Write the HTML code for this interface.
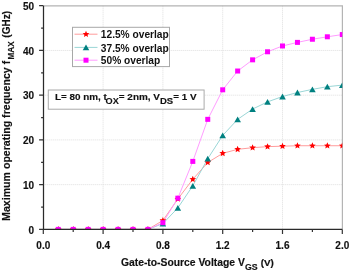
<!DOCTYPE html>
<html><head><meta charset="utf-8"><style>
html,body{margin:0;padding:0;background:#fff;}
body{width:350px;height:271px;overflow:hidden;position:relative;}
svg{position:absolute;left:0;top:0;will-change:transform;}
text{font-family:"Liberation Sans",sans-serif;font-weight:bold;fill:#111;stroke:#111;stroke-width:0.15px;}
</style></head><body>
<svg width="350" height="271" viewBox="0 0 350 271">
<defs><clipPath id="c"><rect x="43.3" y="5.5" width="299" height="224"/></clipPath></defs>

<g stroke="#dedede" stroke-width="1" stroke-dasharray="1 1"><line x1="43.3" y1="184.66" x2="342.3" y2="184.66"/><line x1="43.3" y1="139.92" x2="342.3" y2="139.92"/><line x1="43.3" y1="95.18" x2="342.3" y2="95.18"/><line x1="43.3" y1="50.44" x2="342.3" y2="50.44"/><line x1="103.10" y1="5.7" x2="103.10" y2="229.4"/><line x1="162.90" y1="5.7" x2="162.90" y2="229.4"/><line x1="222.70" y1="5.7" x2="222.70" y2="229.4"/><line x1="282.50" y1="5.7" x2="282.50" y2="229.4"/></g>
<path d="M43.3,5.8 H342.40000000000003 V229.4" fill="none" stroke="#b4b4b4" stroke-width="1.2"/>
<g clip-path="url(#c)">
<polyline points="58.25,229.40 73.20,229.40 88.15,229.40 103.10,229.40 118.05,229.40 133.00,229.40 147.95,229.40 162.90,220.45 177.85,198.98 192.80,179.29 207.75,162.51 222.70,153.34 237.65,149.32 252.60,147.70 267.55,146.63 282.50,146.18 297.45,145.74 312.40,145.74 327.35,145.74 342.30,145.74" fill="none" stroke="#ff9c9c" stroke-width="1"/>
<polyline points="58.25,229.40 73.20,229.40 88.15,229.40 103.10,229.40 118.05,229.40 133.00,229.40 147.95,229.40 162.90,223.58 177.85,207.92 192.80,185.78 207.75,158.71 222.70,135.45 237.65,119.34 252.60,109.05 267.55,101.89 282.50,96.52 297.45,92.50 312.40,89.36 327.35,86.68 342.30,85.11" fill="none" stroke="#9ad6d6" stroke-width="1"/>
<polyline points="58.25,229.40 73.20,229.40 88.15,229.40 103.10,229.40 118.05,229.40 133.00,229.40 147.95,229.40 162.90,222.69 177.85,198.17 192.80,161.40 207.75,119.34 222.70,89.81 237.65,71.02 252.60,59.84 267.55,51.78 282.50,45.97 297.45,42.39 312.40,39.25 327.35,36.79 342.30,34.56" fill="none" stroke="#ff9cff" stroke-width="1"/>
<g fill="#ff0000"><polygon points="58.25,225.90 59.19,228.11 61.58,228.32 59.77,229.89 60.31,232.23 58.25,231.00 56.19,232.23 56.73,229.89 54.92,228.32 57.31,228.11"/><polygon points="73.20,225.90 74.14,228.11 76.53,228.32 74.72,229.89 75.26,232.23 73.20,231.00 71.14,232.23 71.68,229.89 69.87,228.32 72.26,228.11"/><polygon points="88.15,225.90 89.09,228.11 91.48,228.32 89.67,229.89 90.21,232.23 88.15,231.00 86.09,232.23 86.63,229.89 84.82,228.32 87.21,228.11"/><polygon points="103.10,225.90 104.04,228.11 106.43,228.32 104.62,229.89 105.16,232.23 103.10,231.00 101.04,232.23 101.58,229.89 99.77,228.32 102.16,228.11"/><polygon points="118.05,225.90 118.99,228.11 121.38,228.32 119.57,229.89 120.11,232.23 118.05,231.00 115.99,232.23 116.53,229.89 114.72,228.32 117.11,228.11"/><polygon points="133.00,225.90 133.94,228.11 136.33,228.32 134.52,229.89 135.06,232.23 133.00,231.00 130.94,232.23 131.48,229.89 129.67,228.32 132.06,228.11"/><polygon points="147.95,225.90 148.89,228.11 151.28,228.32 149.47,229.89 150.01,232.23 147.95,231.00 145.89,232.23 146.43,229.89 144.62,228.32 147.01,228.11"/><polygon points="162.90,216.95 163.84,219.16 166.23,219.37 164.42,220.95 164.96,223.28 162.90,222.05 160.84,223.28 161.38,220.95 159.57,219.37 161.96,219.16"/><polygon points="177.85,195.48 178.79,197.68 181.18,197.90 179.37,199.47 179.91,201.81 177.85,200.58 175.79,201.81 176.33,199.47 174.52,197.90 176.91,197.68"/><polygon points="192.80,175.79 193.74,178.00 196.13,178.21 194.32,179.79 194.86,182.12 192.80,180.89 190.74,182.12 191.28,179.79 189.47,178.21 191.86,178.00"/><polygon points="207.75,159.01 208.69,161.22 211.08,161.43 209.27,163.01 209.81,165.35 207.75,164.11 205.69,165.35 206.23,163.01 204.42,161.43 206.81,161.22"/><polygon points="222.70,149.84 223.64,152.05 226.03,152.26 224.22,153.84 224.76,156.17 222.70,154.94 220.64,156.17 221.18,153.84 219.37,152.26 221.76,152.05"/><polygon points="237.65,145.82 238.59,148.02 240.98,148.23 239.17,149.81 239.71,152.15 237.65,150.92 235.59,152.15 236.13,149.81 234.32,148.23 236.71,148.02"/><polygon points="252.60,144.20 253.54,146.41 255.93,146.62 254.12,148.20 254.66,150.54 252.60,149.30 250.54,150.54 251.08,148.20 249.27,146.62 251.66,146.41"/><polygon points="267.55,143.13 268.49,145.34 270.88,145.55 269.07,147.13 269.61,149.46 267.55,148.23 265.49,149.46 266.03,147.13 264.22,145.55 266.61,145.34"/><polygon points="282.50,142.68 283.44,144.89 285.83,145.10 284.02,146.68 284.56,149.02 282.50,147.78 280.44,149.02 280.98,146.68 279.17,145.10 281.56,144.89"/><polygon points="297.45,142.24 298.39,144.44 300.78,144.65 298.97,146.23 299.51,148.57 297.45,147.34 295.39,148.57 295.93,146.23 294.12,144.65 296.51,144.44"/><polygon points="312.40,142.24 313.34,144.44 315.73,144.65 313.92,146.23 314.46,148.57 312.40,147.34 310.34,148.57 310.88,146.23 309.07,144.65 311.46,144.44"/><polygon points="327.35,142.24 328.29,144.44 330.68,144.65 328.87,146.23 329.41,148.57 327.35,147.34 325.29,148.57 325.83,146.23 324.02,144.65 326.41,144.44"/><polygon points="342.30,142.24 343.24,144.44 345.63,144.65 343.82,146.23 344.36,148.57 342.30,147.34 340.24,148.57 340.78,146.23 338.97,144.65 341.36,144.44"/></g>
<g fill="#008080"><polygon points="58.25,226.50 61.55,232.30 54.95,232.30"/><polygon points="73.20,226.50 76.50,232.30 69.90,232.30"/><polygon points="88.15,226.50 91.45,232.30 84.85,232.30"/><polygon points="103.10,226.50 106.40,232.30 99.80,232.30"/><polygon points="118.05,226.50 121.35,232.30 114.75,232.30"/><polygon points="133.00,226.50 136.30,232.30 129.70,232.30"/><polygon points="147.95,226.50 151.25,232.30 144.65,232.30"/><polygon points="162.90,220.68 166.20,226.48 159.60,226.48"/><polygon points="177.85,205.02 181.15,210.82 174.55,210.82"/><polygon points="192.80,182.88 196.10,188.68 189.50,188.68"/><polygon points="207.75,155.81 211.05,161.61 204.45,161.61"/><polygon points="222.70,132.55 226.00,138.35 219.40,138.35"/><polygon points="237.65,116.44 240.95,122.24 234.35,122.24"/><polygon points="252.60,106.15 255.90,111.95 249.30,111.95"/><polygon points="267.55,98.99 270.85,104.79 264.25,104.79"/><polygon points="282.50,93.62 285.80,99.42 279.20,99.42"/><polygon points="297.45,89.60 300.75,95.40 294.15,95.40"/><polygon points="312.40,86.46 315.70,92.26 309.10,92.26"/><polygon points="327.35,83.78 330.65,89.58 324.05,89.58"/><polygon points="342.30,82.21 345.60,88.01 339.00,88.01"/></g>
<g fill="#ff00ff"><rect x="55.75" y="226.90" width="5.0" height="5.0"/><rect x="70.70" y="226.90" width="5.0" height="5.0"/><rect x="85.65" y="226.90" width="5.0" height="5.0"/><rect x="100.60" y="226.90" width="5.0" height="5.0"/><rect x="115.55" y="226.90" width="5.0" height="5.0"/><rect x="130.50" y="226.90" width="5.0" height="5.0"/><rect x="145.45" y="226.90" width="5.0" height="5.0"/><rect x="160.40" y="220.19" width="5.0" height="5.0"/><rect x="175.35" y="195.67" width="5.0" height="5.0"/><rect x="190.30" y="158.90" width="5.0" height="5.0"/><rect x="205.25" y="116.84" width="5.0" height="5.0"/><rect x="220.20" y="87.31" width="5.0" height="5.0"/><rect x="235.15" y="68.52" width="5.0" height="5.0"/><rect x="250.10" y="57.34" width="5.0" height="5.0"/><rect x="265.05" y="49.28" width="5.0" height="5.0"/><rect x="280.00" y="43.47" width="5.0" height="5.0"/><rect x="294.95" y="39.89" width="5.0" height="5.0"/><rect x="309.90" y="36.75" width="5.0" height="5.0"/><rect x="324.85" y="34.29" width="5.0" height="5.0"/><rect x="339.80" y="32.06" width="5.0" height="5.0"/></g>
</g>
<path d="M43.5,5.7 V229.4 H342.3" fill="none" stroke="#2a2a2a" stroke-width="1.25"/>
<path d="M39.10,229.40H43.3M41.10,207.03H43.3M39.10,184.66H43.3M41.10,162.29H43.3M39.10,139.92H43.3M41.10,117.55H43.3M39.10,95.18H43.3M41.10,72.81H43.3M39.10,50.44H43.3M41.10,28.07H43.3M39.10,5.70H43.3M43.30,229.4V233.90M73.20,229.4V231.90M103.10,229.4V233.90M133.00,229.4V231.90M162.90,229.4V233.90M192.80,229.4V231.90M222.70,229.4V233.90M252.60,229.4V231.90M282.50,229.4V233.90M312.40,229.4V231.90M342.30,229.4V233.90" fill="none" stroke="#333" stroke-width="1.2"/>
<text x="34" y="233.50" font-size="10" text-anchor="end">0</text>
<text x="34" y="188.76" font-size="10" text-anchor="end">10</text>
<text x="34" y="144.02" font-size="10" text-anchor="end">20</text>
<text x="34" y="99.28" font-size="10" text-anchor="end">30</text>
<text x="34" y="54.54" font-size="10" text-anchor="end">40</text>
<text x="34" y="9.80" font-size="10" text-anchor="end">50</text>
<text x="43.30" y="248.7" font-size="10" text-anchor="middle">0.0</text>
<text x="103.10" y="248.7" font-size="10" text-anchor="middle">0.4</text>
<text x="162.90" y="248.7" font-size="10" text-anchor="middle">0.8</text>
<text x="222.70" y="248.7" font-size="10" text-anchor="middle">1.2</text>
<text x="282.50" y="248.7" font-size="10" text-anchor="middle">1.6</text>
<text x="342.30" y="248.7" font-size="10" text-anchor="middle">2.0</text>
<rect x="72.5" y="27.3" width="97" height="39.3" fill="#fff" stroke="#a8a8a8" stroke-width="1"/>
<line x1="74.5" y1="34.2" x2="97.5" y2="34.2" stroke="#ff9c9c"/>
<line x1="74.5" y1="47.4" x2="97.5" y2="47.4" stroke="#9ad6d6"/>
<line x1="74.5" y1="60.2" x2="97.5" y2="60.2" stroke="#ff9cff"/>
<g fill="#ff0000"><polygon points="86.00,30.70 86.94,32.91 89.33,33.12 87.52,34.69 88.06,37.03 86.00,35.80 83.94,37.03 84.48,34.69 82.67,33.12 85.06,32.91"/></g>
<g fill="#008080"><polygon points="86.00,44.50 89.30,50.30 82.70,50.30"/></g>
<g fill="#ff00ff"><rect x="83.50" y="57.70" width="5.0" height="5.0"/></g>
<text x="100.8" y="38.2" font-size="10.2" style="stroke-width:0">12.5% overlap</text>
<text x="100.8" y="51.5" font-size="10.2" style="stroke-width:0">37.5% overlap</text>
<text x="100.8" y="64.3" font-size="10.2" style="stroke-width:0">50% overlap</text>
<rect x="48.3" y="90" width="155.8" height="19.2" fill="#fff" stroke="#aaa" stroke-width="1"/>
<text x="55.0" y="100.3" font-size="9.9">L= 80 nm, t</text>
<text x="105.6" y="103.8" font-size="9.2" font-weight="normal" style="stroke-width:0.1px">OX</text>
<text x="118.8" y="100.3" font-size="9.95">= 2nm, V</text>
<text x="159.9" y="103.89999999999999" font-size="9.5">DS</text>
<text x="173.2" y="100.3" font-size="9.9">= 1 V</text>
<text x="120.9" y="265.5" font-size="10.35">Gate-to-Source Voltage V</text>
<text x="245.0" y="269.7" font-size="8.8">GS</text>
<text x="260.7" y="265.5" font-size="9.8" font-weight="normal" style="stroke-width:0.2px">(V)</text>
<text transform="translate(9.9,220.9) rotate(-90)" font-size="10.6">Maximum operating frequency f</text>
<text transform="translate(14.3,59.5) rotate(-90) scale(0.95,1)" font-size="8.6">MAX</text>
<text transform="translate(9.8,37.7) rotate(-90)" font-size="10.0">(GHz)</text>
</svg></body></html>
